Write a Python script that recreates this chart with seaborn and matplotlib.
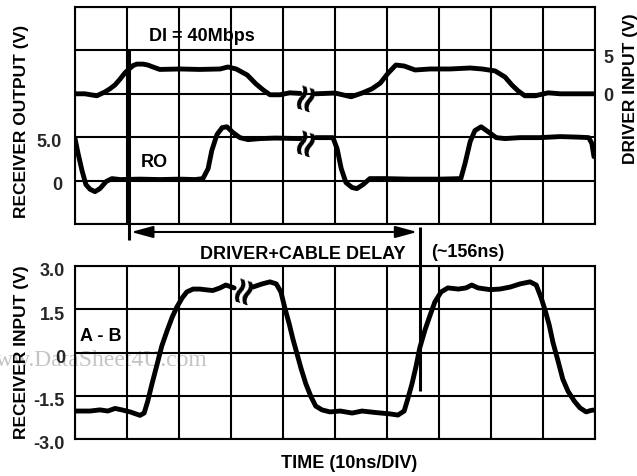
import numpy as np
import pandas as pd
import matplotlib
matplotlib.use('Agg')
import matplotlib.pyplot as plt
import matplotlib.transforms as mtransforms
import seaborn as sns

# ---------------- data (time in ns, 10 ns/DIV) ----------------
time_ticks = list(range(0, 101, 10))

# DI (driver input, V) - two segments around the time break
drv_t1 = [0, 1.9, 4.2, 5.8, 6.7, 7.7, 8.7, 9.6, 10.4, 11.2, 11.9, 13.1, 14.0, 15.0,
          16.3, 20.2, 24.0, 27.9, 29.4, 31.0, 33.1, 34.8, 36.2, 37.5, 39.4, 41.3, 43.3]
drv_v1 = [0, 0, -0.26, 0.26, 0.65, 1.17, 1.96, 2.74, 3.26, 3.72, 3.9, 3.9, 3.78, 3.52,
          3.2, 3.26, 3.2, 3.26, 3.52, 3.26, 2.48, 1.3, 0.5, -0.13, -0.13, 0.13, 0.05]
drv_t2 = [46.3, 50.0, 53.1, 55.2, 57.1, 58.7, 60.2, 61.7, 63.3, 65.4, 68.3, 72.1, 76.0,
          78.3, 80.8, 82.7, 84.0, 85.2, 86.5, 88.5, 91.0, 93.3, 96.2, 100]
drv_v2 = [0, 0.1, -0.39, 0.1, 0.65, 1.4, 2.7, 3.78, 3.65, 3.13, 3.26, 3.26, 3.39,
          3.26, 3.0, 2.2, 1.17, 0.39, -0.26, -0.26, 0.13, 0, 0, 0]

# RO (receiver output, V)
ro_t1 = [0, 0.6, 1.35, 2.1, 2.9, 3.85, 4.8, 6.0, 7.1, 8.7, 12.5, 16.3, 20.2, 23.1, 24.6,
         25.6, 26.3, 27.3, 28.3, 29.2, 30.4, 31.7, 33.3, 35.6, 38.5, 43.3]
ro_v1 = [4.85, 3.1, 1.15, -0.46, -1.0, -1.27, -0.92, -0.1, 0.23, 0.12, 0.17, 0.12, 0.17,
         0.12, 0.23, 1.38, 3.45, 5.3, 6.1, 6.2, 5.53, 4.95, 4.72, 4.84, 4.9, 4.84]
ro_t2 = [46.3, 49.6, 50.4, 51.2, 52.1, 53.3, 54.2, 55.4, 56.7, 59.6, 64.4, 70.2, 74.2,
         75.0, 76.0, 76.9, 78.1, 79.4, 81.0, 82.7, 85.6, 89.4, 93.3, 97.1, 98.8, 99.4, 99.8]
ro_v2 = [4.95, 4.95, 3.69, 1.38, -0.23, -0.8, -0.92, -0.46, 0.23, 0.23, 0.17, 0.17, 0.23,
         1.96, 4.5, 5.76, 6.2, 5.65, 4.95, 4.84, 4.95, 4.95, 5.07, 5.0, 4.95, 4.26, 2.76]

# A - B (receiver input, V)
ab_t1 = [0, 2.9, 4.8, 6.3, 7.7, 9.0, 10.6, 12.5, 13.3, 14.0, 14.8, 15.8, 16.7, 17.7,
         18.7, 19.6, 20.6, 21.5, 22.7, 24.0, 25.4, 26.5, 27.9, 29.0, 30.6]
ab_v1 = [-2.03, -2.03, -1.99, -2.03, -1.94, -1.99, -2.06, -2.18, -2.1, -1.68, -1.09, -0.4,
         0.23, 0.75, 1.23, 1.58, 1.89, 2.1, 2.2, 2.2, 2.17, 2.15, 2.24, 2.34, 2.24]
ab_t2 = [34.2, 36.0, 37.5, 38.7, 39.6, 40.4, 41.2, 41.9, 42.7, 43.5, 44.4, 45.4, 46.3,
         47.5, 49.0, 51.0, 53.3, 55.2, 57.7, 60.6, 62.1, 63.3, 64.0, 64.8, 65.6, 66.3,
         67.3, 68.3, 69.2, 70.4, 71.7, 73.7, 75.2, 76.3, 77.5, 79.8, 81.7, 83.7, 85.6,
         87.5, 88.7, 89.6, 90.4, 91.2, 91.9, 92.9, 93.8, 94.8, 96.0, 97.1, 98.3, 99.2, 100]
ab_v2 = [2.27, 2.38, 2.45, 2.38, 2.1, 1.51, 0.99, 0.47, -0.05, -0.57, -1.09, -1.54, -1.86,
         -1.99, -2.06, -2.03, -2.1, -2.03, -2.08, -2.13, -2.17, -2.03, -1.61, -1.09, -0.47,
         0.16, 0.78, 1.3, 1.75, 2.1, 2.24, 2.2, 2.24, 2.34, 2.24, 2.18, 2.2, 2.27, 2.38,
         2.45, 2.34, 1.92, 1.47, 0.95, 0.36, -0.3, -0.92, -1.34, -1.68, -1.92, -2.06, -2.01, -1.99]

ro_ticks = [-5, 0, 5, 10, 15, 20]
ro_labels = ['', '0', '5.0', '', '', '']
drv_ticks = [0, 5]
drv_labels = ['0', '5']
ab_ticks = [-3.0, -1.5, 0, 1.5, 3.0]
ab_labels = ['-3.0', '-1.5', '0', '1.5', '3.0']


def segs(t1, v1, t2, v2):
    return pd.DataFrame({'t': t1 + t2, 'v': v1 + v2,
                         'seg': [0] * len(t1) + [1] * len(t2)})


drv_df = segs(drv_t1, drv_v1, drv_t2, drv_v2)
ro_df = segs(ro_t1, ro_v1, ro_t2, ro_v2)
ab_df = segs(ab_t1, ab_v1, ab_t2, ab_v2)

# ---------------- style ----------------
sns.set_theme(style='white')
plt.rcParams['font.family'] = ['Liberation Sans', 'DejaVu Sans']
plt.rcParams['font.weight'] = 'bold'
FS = 13
FSY = 12.5
LW = 3.5

W, H = 637, 477
fig = plt.figure(figsize=(W / 100, H / 100), dpi=100)
fig.patch.set_facecolor('white')


def fx(x):
    return x / W


def fy(y):
    return 1 - y / H


ax_top = fig.add_axes([fx(75), fy(225), (595 - 75) / W, (225 - 8) / H])
ax_bot = fig.add_axes([fx(75), fy(440), (595 - 75) / W, (440 - 267) / H])

for ax in (ax_top, ax_bot):
    ax.set_facecolor('none')
    ax.set_xlim(0, 100)
    ax.set_xticks(time_ticks)
    ax.set_xticklabels([])
    ax.grid(True, color='black', lw=1.5)
    ax.set_axisbelow(True)
    for s in ax.spines.values():
        s.set_color('black')
        s.set_linewidth(1.5)
    ax.tick_params(length=0)

# top panel: RO on left axis
ax_top.set_ylim(-5, 20)
ax_top.set_yticks(ro_ticks)
ax_top.set_yticklabels(ro_labels, fontsize=FS, fontweight='bold')
ax_top.tick_params(axis='y', pad=9.4)
sns.lineplot(data=ro_df, x='t', y='v', units='seg', estimator=None, sort=False,
             color='black', lw=LW, ax=ax_top, legend=False)
ax_top.set_xlabel('')
ax_top.set_ylabel('')
off_top = mtransforms.ScaledTranslation(0, -2 / 100, fig.dpi_scale_trans)
for lab in ax_top.get_yticklabels():
    lab.set_transform(lab.get_transform() + off_top)

# driver input on twin right axis
ax_drv = ax_top.twinx()
ax_drv.set_ylim(-17.1, 11.4)
ax_drv.set_yticks(drv_ticks)
ax_drv.set_yticklabels(drv_labels, fontsize=FS, fontweight='bold')
ax_drv.tick_params(axis='y', length=0, pad=5.8)
ax_drv.grid(False)
for s in ax_drv.spines.values():
    s.set_visible(False)
sns.lineplot(data=drv_df, x='t', y='v', units='seg', estimator=None, sort=False,
             color='black', lw=LW, ax=ax_drv, legend=False)
ax_drv.set_xlim(0, 100)
ax_drv.set_xlabel('')
ax_drv.set_ylabel('')

# bottom panel
ax_bot.set_ylim(-3.0, 3.0)
ax_bot.set_yticks(ab_ticks)
ax_bot.set_yticklabels(ab_labels, fontsize=FS, fontweight='bold')
ax_bot.tick_params(axis='y', pad=7.2)
off = mtransforms.ScaledTranslation(0, -3 / 100, fig.dpi_scale_trans)
for lab in ax_bot.get_yticklabels():
    lab.set_transform(lab.get_transform() + off)
sns.lineplot(data=ab_df, x='t', y='v', units='seg', estimator=None, sort=False,
             color='black', lw=LW, ax=ax_bot, legend=False)
ax_bot.set_xlabel('')
ax_bot.set_ylabel('')

# time-break marks
brk = dict(rotation=72, ha='center', va='center', rotation_mode='anchor',
           fontsize=27, fontweight='bold', family='DejaVu Sans', color='black')
fig.text(fx(306), fy(95), '\u2248', **brk)
fig.text(fx(306), fy(140), '\u2248', **brk)
fig.text(fx(244), fy(288), '\u2248', **brk)

# delay markers
ax_top.plot([10.4, 10.4], [15, -6.84], color='black', lw=2.2, clip_on=False,
            solid_capstyle='butt')
ax_bot.plot([66.35, 66.35], [4.35, -1.34], color='black', lw=2.2, clip_on=False,
            solid_capstyle='butt')
ax_top.annotate('', xy=(65.8, -5.92), xytext=(10.8, -5.92), xycoords='data',
                arrowprops=dict(arrowstyle='<|-|>,head_length=1.1,head_width=0.3',
                                lw=1.5, color='black', shrinkA=0, shrinkB=0),
                annotation_clip=False)

# texts
txt = dict(fontsize=FS, fontweight='bold', color='black')
txty = dict(fontsize=FSY, fontweight='bold', color='black')
fig.text(fx(202), fy(41), 'DI = 40Mbps', ha='center', va='baseline', **txt)
fig.text(fx(154), fy(167), 'RO', ha='center', va='baseline', **txt)
fig.text(fx(101), fy(341), 'A - B', ha='center', va='baseline', **txt)
fig.text(fx(303), fy(259), 'DRIVER+CABLE DELAY', ha='center', va='baseline', **txt)
fig.text(fx(468), fy(257), '(~156ns)', ha='center', va='baseline', **txt)
fig.text(fx(349), fy(468), 'TIME (10ns/DIV)', ha='center', va='baseline', **txt)
fig.text(fx(22), fy(121), 'RECEIVER OUTPUT (V)', rotation=90, ha='center', va='center', **txty)
fig.text(fx(22), fy(352), 'RECEIVER INPUT (V)', rotation=90, ha='center', va='center', **txty)
fig.text(fx(631), fy(89), 'DRIVER INPUT (V)', rotation=90, ha='center', va='center', **txty)

# watermark
fig.text(fx(208), fy(366), 'www.DataSheet4U.com', ha='right', va='baseline',
         family='Liberation Serif', fontweight='normal', fontsize=17, color='#c4c4c4',
         zorder=-1)

fig.savefig('out.png', dpi=100, facecolor='white')
